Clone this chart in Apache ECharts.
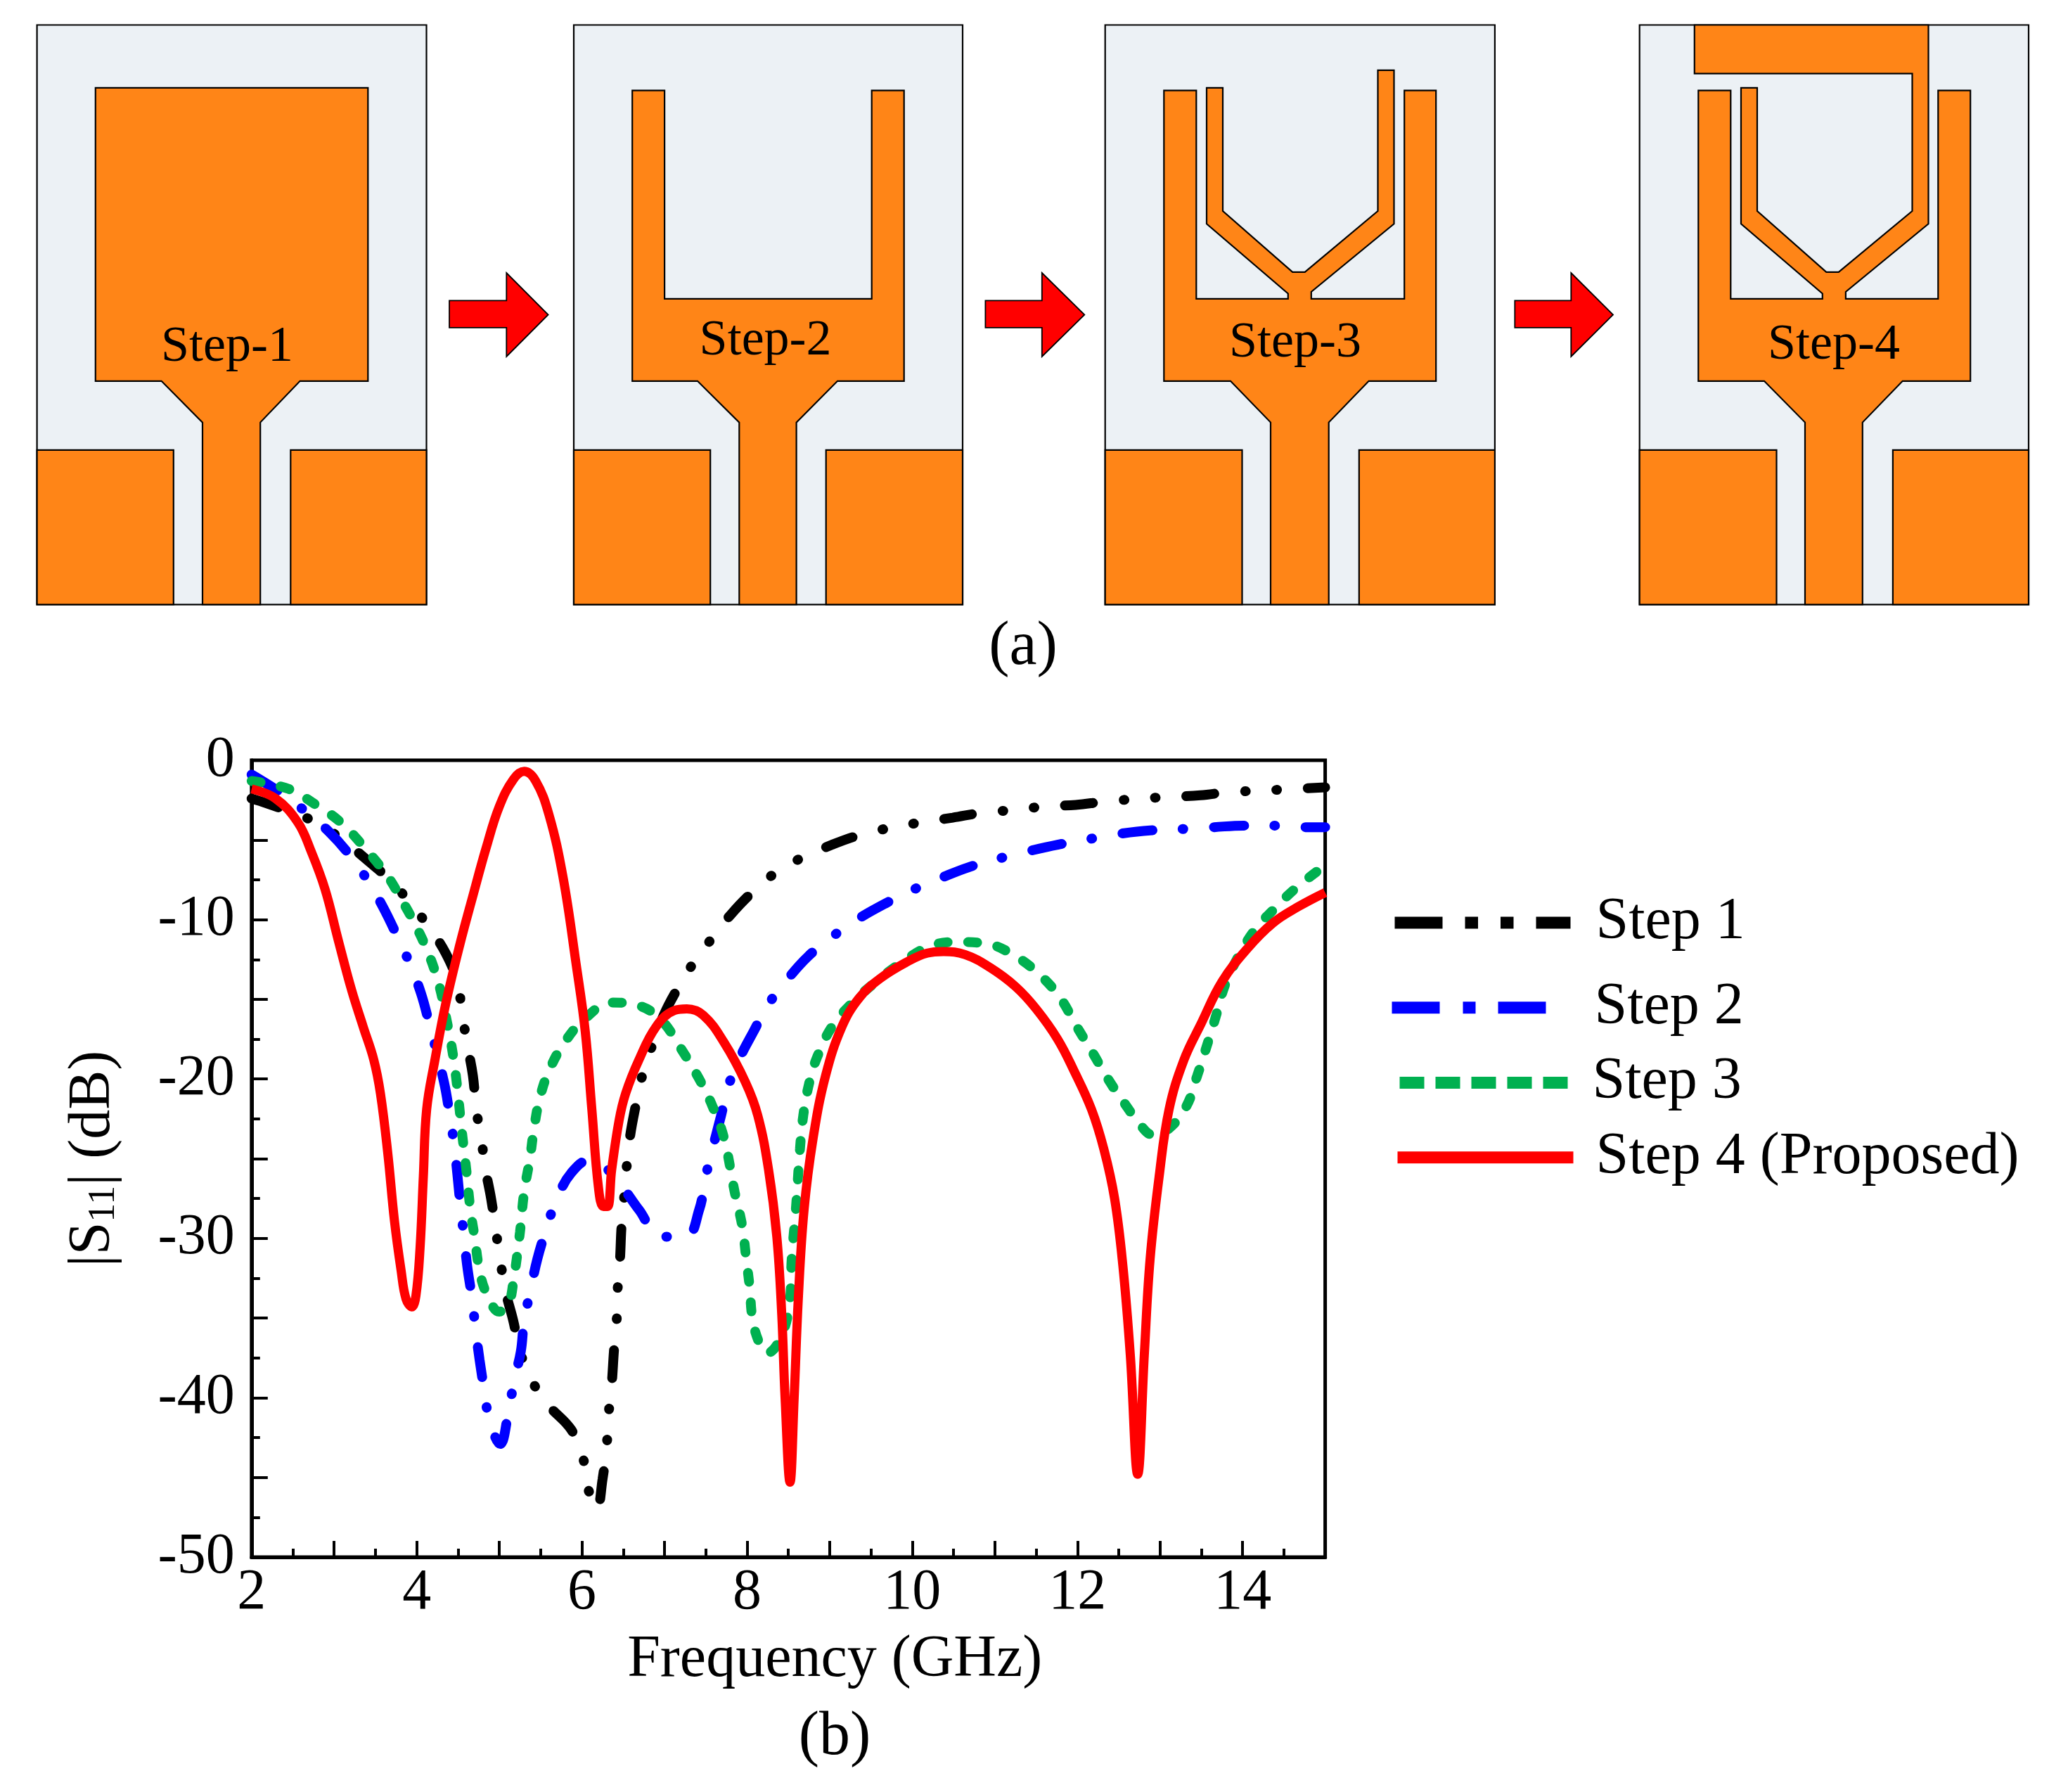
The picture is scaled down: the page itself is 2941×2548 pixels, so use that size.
<!DOCTYPE html>
<html>
<head>
<meta charset="utf-8">
<title>S11 steps</title>
<script src="https://cdn.jsdelivr.net/npm/echarts@6/dist/echarts.min.js"></script>
<style>
  html, body { margin: 0; padding: 0; background: #fff; }
  #chart { width: 2941px; height: 2548px; }
</style>
</head>
<body>
<div id="chart"></div>
<script>
const seriesNames = ['Step 1', 'Step 2', 'Step 3', 'Step 4 (Proposed)'];
const xTickLabels = [2, 4, 6, 8, 10, 12, 14];
const yTickLabels = [0, -10, -20, -30, -40, -50];

// [frequency GHz, |S11| dB]
const step1 = [[2,-2.4],[2.18,-2.7],[2.45,-3.2],[2.78,-3.9],[3.1,-5],[3.43,-6.4],[3.67,-7.5],[3.93,-9],[4.15,-10.5],[4.35,-12.1],[4.49,-13.9],[4.55,-15.9],[4.61,-17.8],[4.68,-19.8],[4.72,-21.9],[4.78,-23.7],[4.83,-25.6],[4.9,-27.5],[4.96,-29.6],[5.01,-31.3],[5.07,-33.2],[5.17,-35.2],[5.25,-37.1],[5.39,-38.9],[5.6,-40.5],[5.87,-42],[6.01,-43.7],[6.07,-45.6],[6.18,-47],[6.25,-45.1],[6.3,-43],[6.32,-41.2],[6.36,-39.2],[6.39,-36.9],[6.42,-35.2],[6.43,-33.4],[6.46,-31.4],[6.48,-29.2],[6.51,-27.5],[6.54,-25.6],[6.58,-23.7],[6.65,-21.7],[6.73,-19.8],[6.85,-17.9],[6.99,-16],[7.15,-14.4],[7.34,-12.8],[7.57,-11.2],[7.8,-9.7],[8.06,-8.3],[8.36,-7],[8.67,-6.1],[9.03,-5.3],[9.36,-4.7],[9.77,-4.2],[10.11,-3.9],[10.49,-3.6],[10.84,-3.3],[11.27,-3.1],[11.6,-2.9],[11.98,-2.8],[12.32,-2.6],[12.78,-2.4],[13.11,-2.3],[13.49,-2.2],[13.83,-2],[14.26,-1.9],[14.61,-1.8],[15,-1.7]];
const step2 = [[2,-0.9],[2.34,-2],[2.65,-3.2],[2.94,-4.5],[3.18,-5.9],[3.4,-7.5],[3.59,-9.2],[3.76,-11],[3.91,-12.7],[4.05,-14.6],[4.15,-16.5],[4.33,-20.2],[4.4,-22.3],[4.45,-24],[4.49,-25.9],[4.53,-28],[4.57,-29.8],[4.61,-31.7],[4.67,-33.8],[4.71,-35.6],[4.76,-37.6],[4.82,-39.6],[4.88,-41.4],[5.01,-42.9],[5.11,-40.9],[5.18,-38.9],[5.26,-37.1],[5.3,-35.2],[5.38,-33.2],[5.46,-31.3],[5.57,-29.4],[5.69,-27.6],[5.87,-25.9],[6.09,-25.1],[6.25,-25.4],[6.48,-26.7],[6.69,-28.2],[6.96,-29.9],[7.26,-29.9],[7.42,-28.2],[7.5,-26.1],[7.58,-24.4],[7.68,-22.4],[7.77,-20.5],[7.9,-18.8],[8.08,-17],[8.26,-15.3],[8.48,-13.8],[8.74,-12.3],[9.05,-11],[9.33,-10],[9.67,-9],[10.02,-8.1],[10.34,-7.4],[10.69,-6.7],[11.1,-6.1],[11.41,-5.7],[11.76,-5.3],[12.19,-4.9],[12.53,-4.6],[12.88,-4.4],[13.32,-4.3],[13.65,-4.2],[14.01,-4.1],[14.44,-4.1],[14.79,-4.2],[15,-4.2]];
const step3 = [[2,-1.3],[2.45,-1.8],[2.78,-2.8],[3.08,-3.9],[3.37,-5.5],[3.65,-7.3],[3.81,-8.7],[3.97,-10.2],[4.14,-12.1],[4.27,-14.1],[4.35,-16],[4.43,-18.2],[4.49,-20.5],[4.54,-23],[4.6,-25.7],[4.65,-28.2],[4.7,-29.9],[4.76,-32],[4.84,-33.4],[5,-34.6],[5.11,-34.1],[5.17,-32.7],[5.25,-29.6],[5.3,-27.1],[5.37,-25],[5.42,-23.1],[5.49,-21.2],[5.6,-19.5],[5.79,-17.7],[6.04,-16.2],[6.36,-15.2],[6.69,-15.4],[6.96,-16.3],[7.2,-18.1],[7.42,-20],[7.58,-21.7],[7.72,-23.7],[7.85,-27.1],[7.94,-29.2],[7.99,-31.3],[8.03,-33],[8.07,-35.2],[8.16,-36.7],[8.24,-37.2],[8.41,-36.2],[8.52,-33.8],[8.54,-31.3],[8.59,-28.2],[8.64,-24.4],[8.68,-22.3],[8.75,-20.3],[8.85,-18.6],[9.03,-16.7],[9.26,-15.3],[9.56,-13.9],[9.87,-12.7],[10.2,-11.7],[10.53,-11.4],[10.89,-11.5],[11.22,-12.2],[11.53,-13.4],[11.79,-14.9],[11.99,-16.7],[12.19,-18.4],[12.37,-20],[12.58,-21.6],[12.78,-23],[12.91,-23.5],[13.11,-23.1],[13.32,-21.7],[13.45,-19.8],[13.55,-18.2],[13.68,-16],[13.78,-14.2],[13.93,-12.5],[14.14,-10.7],[14.37,-9.4],[14.65,-8],[15,-6.6]];
const step4 = [[2,-1.8],[2.29,-2.4],[2.56,-3.9],[2.72,-5.7],[2.89,-8.1],[3.05,-11.3],[3.21,-14.4],[3.35,-16.7],[3.48,-18.8],[3.56,-20.9],[3.65,-24.7],[3.73,-28.9],[3.81,-32],[3.87,-33.8],[3.94,-34.3],[3.99,-33.6],[4.04,-30.6],[4.08,-26.1],[4.12,-21.9],[4.22,-18.8],[4.35,-15.3],[4.52,-11.6],[4.68,-8.5],[4.84,-5.5],[5,-2.9],[5.17,-1.2],[5.3,-0.7],[5.44,-1.3],[5.6,-3.4],[5.77,-7.3],[5.93,-12.8],[6.04,-17],[6.12,-21.9],[6.2,-26.8],[6.26,-28],[6.31,-28],[6.36,-25.7],[6.45,-22.6],[6.53,-20.9],[6.69,-18.8],[6.9,-16.7],[7.12,-15.7],[7.27,-15.6],[7.47,-16],[7.72,-17.7],[7.98,-20.2],[8.13,-22.3],[8.26,-25.7],[8.36,-29.9],[8.42,-34.8],[8.46,-40],[8.52,-45.3],[8.57,-40],[8.62,-33.8],[8.69,-28.2],[8.8,-23.7],[8.95,-19.8],[9.15,-16.7],[9.36,-14.9],[9.61,-13.7],[9.92,-12.7],[10.18,-12.1],[10.38,-12],[10.64,-12.2],[10.94,-13],[11.25,-14.2],[11.5,-15.6],[11.76,-17.5],[11.96,-19.5],[12.17,-21.9],[12.32,-24.4],[12.45,-27.5],[12.55,-31.7],[12.64,-37.3],[12.73,-44.8],[12.81,-37.3],[12.88,-31.3],[12.99,-26.1],[13.11,-21.9],[13.29,-18.8],[13.5,-16.5],[13.75,-13.9],[14.06,-11.8],[14.37,-10.2],[14.67,-9.2],[15,-8.3]];

const SERIF = '"Liberation Serif", "Times New Roman", serif';
const ORANGE = '#FF8517';
const SUBSTRATE = '#ECF1F5';
const PANEL_TOP = 35.5;
const PANEL_BOTTOM = 859.6;
const GROUND_TOP = 639.8;

function poly(points, fill, lineWidth) {
  return {
    type: 'polygon',
    shape: { points: points },
    style: { fill: fill, stroke: '#000', lineWidth: lineWidth || 2.2 }
  };
}

function rect(x0, y0, x1, y1, fill) {
  return poly([[x0, y0], [x1, y0], [x1, y1], [x0, y1]], fill);
}

// y is the text baseline
function label(text, x, y, size) {
  return {
    type: 'text',
    x: x,
    y: y - 0.3375 * size,
    z: 10,
    style: {
      text: text,
      font: size + 'px ' + SERIF,
      fill: '#000',
      align: 'center',
      verticalAlign: 'middle'
    }
  };
}

function arrow(x0, x1, tip) {
  return poly([[x0, 427.3], [x1, 427.3], [x1, 388], [tip, 447.5], [x1, 507], [x1, 465.9], [x0, 465.9]], '#FF0000', 1.8);
}

// substrate, the two ground blocks
function board(left, right, gndL, gndR) {
  return [
    rect(left, PANEL_TOP, right, PANEL_BOTTOM, SUBSTRATE),
    rect(left, GROUND_TOP, gndL, PANEL_BOTTOM, ORANGE),
    rect(gndR, GROUND_TOP, right, PANEL_BOTTOM, ORANGE)
  ];
}

// fork shaped patch with the feed below it, slot is the outline of whatever grows out of the fork floor
function fork(o0, i0, i1, o1, t0, t1, n0, n1, slot) {
  return poly([[o0, 128.6], [i0, 128.6], [i0, 424.9]]
    .concat(slot || [])
    .concat([
      [i1, 424.9], [i1, 128.6], [o1, 128.6],
      [o1, 541.8], [t1, 541.8], [n1, 600.6], [n1, PANEL_BOTTOM], [n0, PANEL_BOTTOM],
      [n0, 600.6], [t0, 541.8], [o0, 541.8]
    ]), ORANGE);
}

const step3Slot = [
  [1831.8, 424.9], [1831.8, 417.5], [1716, 318.3], [1716, 124.9], [1739, 124.9], [1739, 300],
  [1838.2, 386.9], [1855.7, 386.9], [1959.5, 300], [1959.5, 99.8], [1982.5, 99.8], [1982.5, 318.3],
  [1864.8, 415], [1864.8, 424.9]
];
const step4Slot = [
  [2591.8, 424.9], [2591.8, 417.5], [2476, 318.3], [2476, 124.9], [2499, 124.9], [2499, 300],
  [2597.3, 386.9], [2614.8, 386.9], [2719.5, 300], [2719.5, 104.7], [2409.8, 104.7], [2409.8, 35.5],
  [2742.5, 35.5], [2742.5, 318.3], [2624.9, 415], [2624.9, 424.9]
];

const antennaGraphics = [].concat(
  board(52.6, 606.5, 246.8, 413.3),
  [poly([[135.8, 124.9], [523.3, 124.9], [523.3, 541.8], [426.6, 541.8], [370.2, 600.6], [370.2, PANEL_BOTTOM], [288, PANEL_BOTTOM], [288, 600.6], [229.6, 541.8], [135.8, 541.8]], ORANGE)],
  [label('Step-1', 323, 518, 72), arrow(639, 720.3, 779.6)],

  board(816, 1369, 1010.2, 1174.7),
  [fork(899.2, 945.1, 1239.7, 1285.7, 992, 1191, 1051.3, 1132.6)],
  [label('Step-2', 1088.6, 509, 72), arrow(1401.4, 1481.8, 1542.3)],

  board(1571.7, 2125.9, 1766.5, 1932.8),
  [fork(1655.3, 1701.3, 1997.2, 2042.2, 1750, 1946.6, 1807, 1889.7, step3Slot)],
  [label('Step-3', 1841.9, 512, 72), arrow(2154.3, 2234.3, 2294)],

  board(2331.7, 2885, 2526.5, 2691.9),
  [fork(2415.3, 2461.3, 2756.3, 2802.2, 2509, 2705.7, 2567, 2648.8, step4Slot)],
  [label('Step-4', 2608, 515, 72)],

  [label('(a)', 1455, 951, 88), label('(b)', 1187, 2501, 88)]
);

function legendAt(name, left, top, type, textGap, textLift) {
  return {
    data: [name],
    left: left,
    top: top,
    padding: 0,
    itemWidth: 250,
    itemHeight: 17,
    symbolSize: 0,
    selectedMode: false,
    itemStyle: { opacity: 0 },
    lineStyle: { width: 17, type: type, cap: 'butt' },
    textStyle: { fontFamily: SERIF, fontSize: 84, color: '#000', padding: [0, 0, textLift, textGap] }
  };
}

const chart = echarts.init(document.getElementById('chart'), null, { renderer: 'canvas' });

chart.setOption({
  animation: false,
  backgroundColor: '#fff',
  graphic: antennaGraphics,
  grid: {
    show: true,
    left: 357.8,
    top: 1081,
    width: 1526.8,
    height: 1133,
    borderColor: '#000',
    borderWidth: 5,
    backgroundColor: 'transparent'
  },
  legend: [
    legendAt(seriesNames[0], 1975, 1270, [68, 32, 18.5, 32, 18.5, 32], 31, 19),
    legendAt(seriesNames[1], 1971, 1390.7, [68, 33, 18, 32], 33, 4),
    legendAt(seriesNames[2], 1982, 1497.4, [35, 16], 19, 25),
    legendAt(seriesNames[3], 1979, 1603.8, 'solid', 27, 12)
  ],
  xAxis: {
    type: 'value',
    min: 2,
    max: 15,
    interval: 1,
    name: 'Frequency (GHz)',
    nameLocation: 'middle',
    nameGap: 105,
    nameTextStyle: { fontFamily: SERIF, fontSize: 84, color: '#000', padding: [0, 0, 0, 132] },
    axisLine: { onZero: false, lineStyle: { color: '#000', width: 5 } },
    axisTick: { inside: true, length: 23, lineStyle: { color: '#000', width: 4 } },
    minorTick: { show: true, splitNumber: 2, length: 12, lineStyle: { color: '#000', width: 4 } },
    splitLine: { show: false },
    minorSplitLine: { show: false },
    axisLabel: {
      fontFamily: SERIF,
      fontSize: 82,
      color: '#000',
      margin: 10,
      hideOverlap: false,
      showMaxLabel: false,
      formatter: function (v) { return xTickLabels.indexOf(v) >= 0 ? String(v) : ''; }
    }
  },
  yAxis: {
    type: 'value',
    min: -50,
    max: 0,
    interval: 5,
    name: '|S{sub|11}| (dB)',
    nameLocation: 'middle',
    nameGap: 183,
    nameRotate: 90,
    nameTextStyle: {
      fontFamily: SERIF,
      fontSize: 84,
      color: '#000',
      padding: [0, 0, 0, 0],
      rich: { sub: { fontFamily: SERIF, fontSize: 54, color: '#000', verticalAlign: 'bottom' } }
    },
    axisLine: { lineStyle: { color: '#000', width: 5 } },
    axisTick: { inside: true, length: 23, lineStyle: { color: '#000', width: 4 } },
    minorTick: { show: true, splitNumber: 2, length: 12, lineStyle: { color: '#000', width: 4 } },
    splitLine: { show: false },
    minorSplitLine: { show: false },
    axisLabel: {
      fontFamily: SERIF,
      fontSize: 82,
      color: '#000',
      margin: 24,
      hideOverlap: false,
      formatter: function (v) { return yTickLabels.indexOf(v) >= 0 ? String(v) : ''; }
    }
  },
  series: [
    { name: seriesNames[0], type: 'line', data: step1, showSymbol: false, symbol: 'none', smooth: 0.4, clip: false, z: 2,
      itemStyle: { color: '#000' },
      lineStyle: { color: '#000', width: 14, cap: 'round', type: [40, 44, 1, 43.4, 1, 43.6] } },
    { name: seriesNames[1], type: 'line', data: step2, showSymbol: false, symbol: 'none', smooth: 0.4, clip: false, z: 3,
      itemStyle: { color: '#0000FF' },
      lineStyle: { color: '#0000FF', width: 14, cap: 'round', type: [43, 43, 1, 43.6] } },
    { name: seriesNames[2], type: 'line', data: step3, showSymbol: false, symbol: 'none', smooth: 0.4, clip: false, z: 4,
      itemStyle: { color: '#00B050' },
      lineStyle: { color: '#00B050', width: 14, cap: 'round', type: [13, 29] } },
    { name: seriesNames[3], type: 'line', data: step4, showSymbol: false, symbol: 'none', smooth: 0.4, clip: false, z: 5,
      itemStyle: { color: '#FF0000' },
      lineStyle: { color: '#FF0000', width: 13 } }
  ]
});
</script>
</body>
</html>
